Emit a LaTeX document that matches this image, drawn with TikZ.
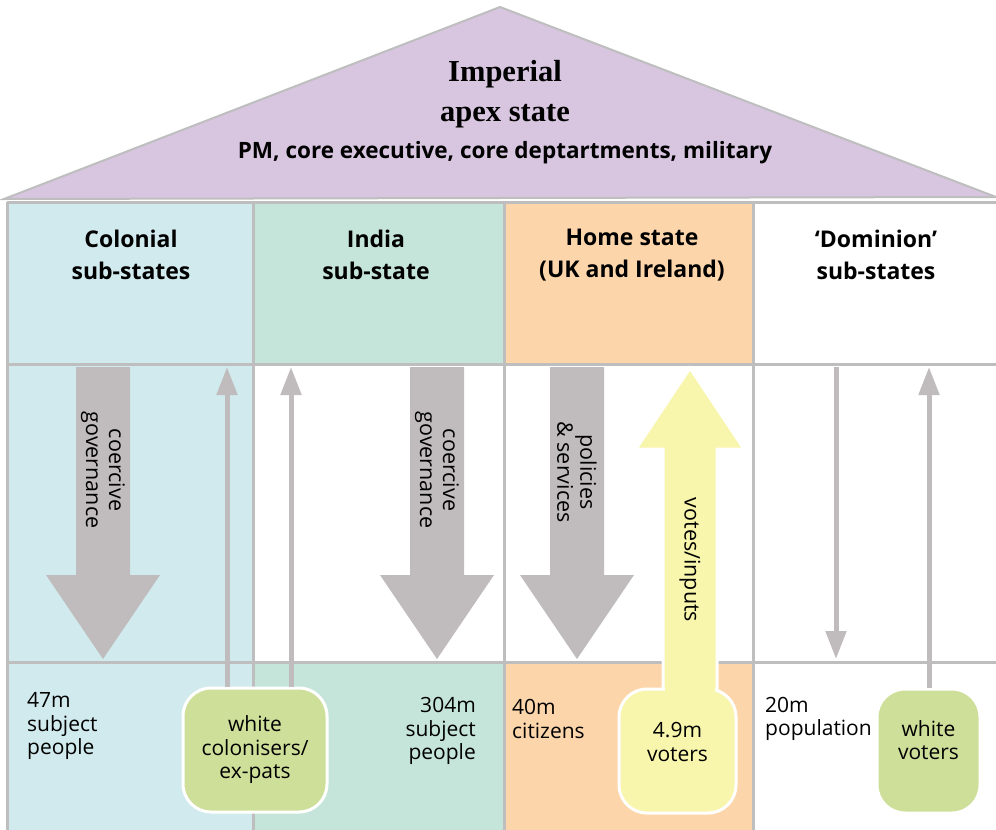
\documentclass[tikz,border=0pt]{standalone}
\usepackage{fontspec}
\setmainfont{Open Sans}
\newfontfamily\slabfont{Liberation Serif}
\usepackage{xcolor}
\usepackage{tikz}
\usetikzlibrary{arrows.meta,positioning}
\definecolor{roofpurple}{RGB}{216,198,225}
\definecolor{colonyblue}{RGB}{209,234,238}
\definecolor{indiagreen}{RGB}{197,229,218}
\definecolor{homeorange}{RGB}{252,214,170}
\definecolor{voteyellow}{RGB}{248,245,172}
\definecolor{settlergreen}{RGB}{206,223,154}
\definecolor{arrowgray}{RGB}{192,188,189}
\definecolor{gridgray}{RGB}{190,190,190}

\begin{document}
\begin{tikzpicture}[x=1pt, y=-1pt,
    gridline/.style={draw=gridgray, line width=3pt},
    thinarrow/.style={draw=arrowgray, line width=5pt, -{Triangle[width=20pt,length=28pt]}},
    headtext/.style={font=\fontsize{23}{32}\selectfont\bfseries, align=center},
    bodytext/.style={font=\fontsize{21}{23.5}\selectfont, align=left, inner sep=0pt},
    flowtext/.style={font=\fontsize{21.5}{23}\selectfont, align=center, rotate=-90},
    groupbox/.style={draw=white, line width=3pt, rounded corners=28pt, minimum height=124pt}]
    \useasboundingbox (0,0) rectangle (996,830);

    % Column fills
    \fill[colonyblue] (7,202) rectangle (253,830);
    \fill[indiagreen] (253,202) rectangle (504,364);
    \fill[indiagreen] (253,662) rectangle (504,830);
    \fill[homeorange] (504,202) rectangle (753,364);
    \fill[homeorange] (504,662) rectangle (753,830);

    % Grid
    \foreach \y in {202,364,662} {
        \draw[gridline] (7,\y) -- (996,\y);
    }
    \foreach \x in {7,253,504,753} {
        \draw[gridline] (\x,202) -- (\x,830);
    }

    % Roof
    \draw[draw=gridgray, line width=2pt, fill=roofpurple] (4,199) -- (500,7) -- (996,197) -- cycle;
    \node[font=\slabfont\fontsize{30.5}{32}\selectfont\bfseries] (imperial) at (505,74) {Imperial};
    \node[font=\slabfont\fontsize{30.5}{32}\selectfont\bfseries] (apex) at (505,116) {apex state};
    \node[font=\fontsize{22.5}{24}\selectfont\bfseries] (apexcore) at (505,153) {PM, core executive, core deptartments, military};

    % Sub-state headings
    \foreach \cx/\name/\txt in {131/colonial/{Colonial\\sub-states}, 376/india/{India\\sub-state}, 632/home/{Home state\\(UK and Ireland)}, 876/dominion/{‘Dominion’\\sub-states}} {
        \node[headtext] (\name) at (\cx,255) {\txt};
    }

    % Downward flows
    \foreach \cx/\name/\cy/\txt in {103/colgov/470/{coercive\\governance}, 437/indgov/470/{coercive\\governance}, 577/homepol/472/{policies\\\& services}} {
        \fill[arrowgray] (\cx-27,367) -- (\cx+27,367) -- (\cx+27,575) -- (\cx+57,575)
            -- (\cx,659) -- (\cx-57,575) -- (\cx-27,575) -- cycle;
        \node[flowtext] (\name) at (\cx,\cy) {\txt};
    }

    % Votes arrow
    \draw[draw=white, line width=3pt, fill=voteyellow] (663,700) -- (663,449) -- (636,449) -- (690,368)
        -- (744,449) -- (717,449) -- (717,700);
    \node[groupbox, fill=voteyellow, minimum width=117pt] (votersbox) at (677.5,751) {};
    \fill[voteyellow] (665,684) rectangle (715,700);
    \node[flowtext] (votes) at (690,560) {votes/inputs};

    % Population boxes
    \node[groupbox, fill=settlergreen, minimum width=144pt] (colonisers) at (255,750) {};
    \node[groupbox, fill=settlergreen, minimum width=103pt] (whitevoters) at (928.5,751) {};

    % Upward and thin flows
    \coordinate (coltop) at (227,367);
    \coordinate (indtop) at (291,367);
    \coordinate (domtop) at (929,367);
    \coordinate (domdown) at (836,367);
    \coordinate (dombottom) at (836,659);
    \draw[thinarrow] (coltop |- colonisers.north) -- (coltop);
    \draw[thinarrow] (indtop |- colonisers.north) -- (indtop);
    \draw[thinarrow] (domtop |- whitevoters.north) -- (domtop);
    \draw[thinarrow] (domdown) -- (dombottom);

    % Population labels
    \node[bodytext, anchor=west] (colpeople) at (27,726) {47m\\subject\\people};
    \node[bodytext, align=right, anchor=east] (indpeople) at (476,731) {304m\\subject\\people};
    \node[bodytext, anchor=west] (citizens) at (512,719) {40m\\citizens};
    \node[bodytext, anchor=west] (dompop) at (765,719) {20m\\population};
    \node[bodytext, align=center] (colonisertext) at (colonisers.center) {white\\colonisers/\\ex-pats};
    \node[bodytext, align=center] (voterstext) at (677.5,742) {4.9m\\voters};
    \node[bodytext, align=center] (whitevotertext) at (928.5,740) {white\\voters};
\end{tikzpicture}
\end{document}
